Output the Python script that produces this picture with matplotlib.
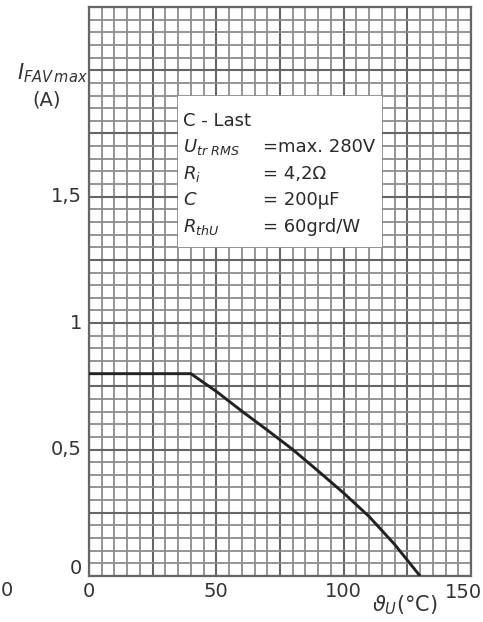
import numpy as np
import matplotlib
matplotlib.use("Agg")
import matplotlib.pyplot as plt
from matplotlib.patches import Rectangle

# Data
temp_c = [0, 40, 50, 60, 70, 80, 90, 100, 110, 120, 130]
i_fav = [0.80, 0.80, 0.73, 0.652, 0.577, 0.50, 0.415, 0.328, 0.235, 0.125, 0.0]

x_ticks = [0, 50, 100, 150]
x_tick_labels = ["0", "50", "100", "150"]
y_ticks = [0, 0.5, 1.0, 1.5]
y_tick_labels = ["0", "0,5", "1", "1,5"]

info_names = ["C - Last", r"$U_{tr\ RMS}$", r"$R_i$", r"$C$", r"$R_{thU}$"]
info_values = ["", "=max. 280V", "= 4,2Ω", "= 200µF", "= 60grd/W"]

W, H = 483, 622
fig = plt.figure(figsize=(W / 100, H / 100), dpi=100)
fig.patch.set_facecolor("white")
L, R, T, B = 89, 471, 7, 576
ax = fig.add_axes([L / W, 1 - B / H, (R - L) / W, (B - T) / H])

ax.set_xlim(0, 150)
ax.set_ylim(0, 2.25)

ax.set_xticks(np.arange(0, 151, 25))
ax.set_xticks(np.arange(0, 151, 5), minor=True)
ax.set_yticks(np.arange(0, 2.251, 0.25))
ax.set_yticks(np.arange(0, 2.251, 0.05), minor=True)
ax.tick_params(which="both", length=0, labelbottom=False, labelleft=False)
ax.set_axisbelow(True)
ax.grid(which="minor", color="#8c8c8c", lw=1.3)
ax.grid(which="major", color="#666666", lw=1.5)
for s in ax.spines.values():
    s.set_color("#666666")
    s.set_linewidth(1.6)

# Info box (white area over the grid)
ax.add_patch(Rectangle((35, 1.3), 80, 0.6, facecolor="white", edgecolor="none", zorder=2))
ys = [1.80, 1.695, 1.59, 1.485, 1.38]
for name, val, yy in zip(info_names, info_values, ys):
    ax.text(37, yy, name, fontsize=13, va="center", ha="left", color="#2a2a2a", zorder=4)
    if val:
        ax.text(68.5, yy, val, fontsize=13, va="center", ha="left", color="#2a2a2a", zorder=4)

# Curve
ax.plot(temp_c, i_fav, color="#222222", lw=2.1, zorder=3, solid_capstyle="butt")

# Tick labels
for xv, lab in zip(x_ticks, x_tick_labels):
    xx = xv - (3.0 if xv == 150 else 0.0)
    yy = -0.065 if xv == 150 else -0.06
    ax.text(xx, yy, lab, fontsize=14, ha="center", va="center", color="#333333", clip_on=False)
for yv, lab in zip(y_ticks, y_tick_labels):
    yy = yv + (0.03 if yv == 0 else 0.0)
    ax.text(-2.8, yy, lab, fontsize=14, ha="right", va="center", color="#333333", clip_on=False)

# Axis labels
fig.text(52 / W, 1 - 73 / H, r"$I_{FAV\,max}$", fontsize=15, ha="center", va="center", color="#333333")
fig.text(47 / W, 1 - 100 / H, "(A)", fontsize=14, ha="center", va="center", color="#333333")
fig.text(405 / W, 1 - 605 / H, r"$\vartheta_U$(°C)", fontsize=15, ha="center", va="center", color="#333333")

# Label at far left edge (from neighbouring chart)
fig.text(1 / W, 1 - 590 / H, "0", fontsize=14, ha="left", va="center", color="#333333")

fig.savefig("out.png", dpi=100, facecolor="white")
